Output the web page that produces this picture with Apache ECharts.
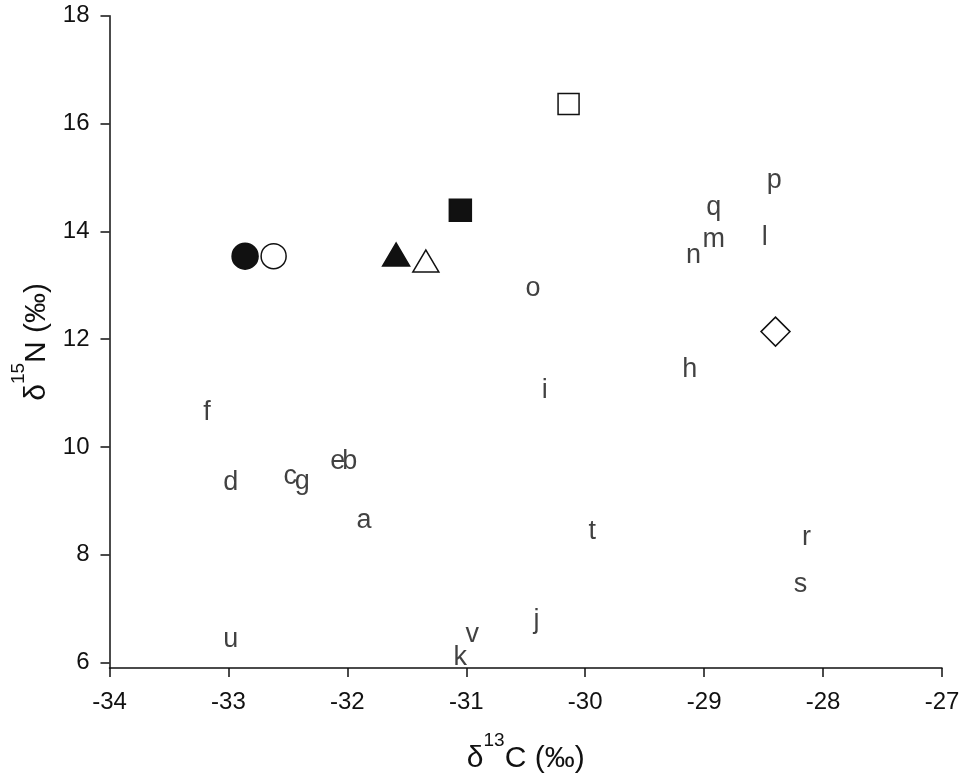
<!DOCTYPE html>
<html>
<head>
<meta charset="utf-8">
<script src="https://cdn.jsdelivr.net/npm/echarts@6/dist/echarts.min.js"></script>
<style>
html,body{margin:0;padding:0;background:#fff;}
#chart{width:979px;height:781px;}
</style>
</head>
<body>
<div id="chart"></div>
<script>
// ---- data ----
const letters = ['a','b','c','d','e','f','g','h','i','j','k','l','m','n','o','p','q','r','s','t','u','v'];
const letterX = [-31.86,-31.98,-32.48,-32.98,-32.08,-33.18,-32.38,-29.12,-30.34,-30.41,-31.05,-28.49,-28.92,-29.09,-30.44,-28.41,-28.92,-28.14,-28.19,-29.94,-32.98,-30.95];
const letterY = [8.68,9.76,9.48,9.37,9.76,10.67,9.39,11.47,11.08,6.81,6.13,13.93,13.88,13.59,12.97,14.97,14.47,8.35,7.49,8.46,6.46,6.56];

const markerNames = ['filledCircle','openCircle','filledTriangle','openTriangle','filledSquare','openSquare','openDiamond'];
const markerX = [-32.86,-32.62,-31.59,-31.34,-31.05,-30.14,-28.40];
const markerY = [13.54,13.54,13.57,13.45,14.39,16.36,12.14];

const xTicks = [-34,-33,-32,-31,-30,-29,-28,-27];
const yTicks = [6,8,10,12,14,16,18];

// ---- styles ----
const INK = '#111';
const markerStyle = {
  filledCircle:   {symbol:'circle',   size:26, fill:INK,    stroke:INK},
  openCircle:     {symbol:'circle',   size:25, fill:'#fff', stroke:INK},
  filledTriangle: {symbol:'triangle', size:[27,23], fill:INK, stroke:INK},
  openTriangle:   {symbol:'triangle', size:[26,22], fill:'#fff', stroke:INK},
  filledSquare:   {symbol:'rect',     size:22, fill:INK,    stroke:INK},
  openSquare:     {symbol:'rect',     size:21, fill:'#fff', stroke:INK},
  openDiamond:    {symbol:'diamond',  size:29, fill:'#fff', stroke:INK}
};

const FONT = '"Liberation Sans", Arial, Helvetica, sans-serif';

const series = [];
markerNames.forEach(function(name, i){
  const st = markerStyle[name];
  series.push({
    type:'scatter',
    name:name,
    symbol:st.symbol,
    symbolSize:st.size,
    data:[[markerX[i], markerY[i]]],
    itemStyle:{color:st.fill, borderColor:st.stroke, borderWidth:1.5, opacity:1},
    emphasis:{disabled:true},
    silent:true,
    z:3
  });
});
series.push({
  type:'scatter',
  name:'letters',
  symbolSize:1,
  itemStyle:{color:'rgba(0,0,0,0)'},
  data:letters.map(function(l,i){ return {name:l, value:[letterX[i], letterY[i]]}; }),
  label:{
    show:true, position:'inside', offset:[0,2], formatter:function(p){return p.name;},
    color:INK, fontFamily:FONT, fontSize:27, align:'center', verticalAlign:'middle',
    textBorderWidth:0
  },
  emphasis:{disabled:true},
  silent:true,
  z:4
});

const chart = echarts.init(document.getElementById('chart'), null, {renderer:'canvas'});
chart.setOption({
  animation:false,
  backgroundColor:'#fff',
  grid:{left:109.5, right:37, top:15.7, bottom:113, containLabel:false},
  xAxis:{
    type:'value', min:-34, max:-27, interval:1,
    splitLine:{show:false},
    axisLine:{show:true, onZero:false, lineStyle:{color:INK, width:1.5}},
    axisTick:{show:true, inside:false, length:9, lineStyle:{color:INK, width:1.5}},
    axisLabel:{show:true, margin:22, color:INK, fontFamily:FONT, fontSize:24, showMinLabel:true, showMaxLabel:true},
    name:'{d|δ}{s|13}{t|C (‰)}',
    nameLocation:'middle', nameGap:63,
    nameTextStyle:{
      color:INK, fontFamily:FONT,
      rich:{
        d:{fontSize:30, lineHeight:56, fontFamily:FONT, color:INK},
        s:{fontSize:19, lineHeight:19, verticalAlign:'top', fontFamily:FONT, color:INK},
        t:{fontSize:30, lineHeight:56, fontFamily:FONT, color:INK}
      }
    }
  },
  yAxis:{
    type:'value', min:5.9, max:18,
    splitLine:{show:false},
    axisLine:{show:true, onZero:false, lineStyle:{color:INK, width:1.5}},
    axisTick:{show:true, inside:false, length:9, customValues:yTicks, lineStyle:{color:INK, width:1.5}},
    axisLabel:{show:true, margin:20, customValues:yTicks, color:INK, fontFamily:FONT, fontSize:24},
    name:'{d|δ}{s|15}{t|N (‰)}',
    nameLocation:'middle', nameGap:40, nameRotate:90,
    nameTextStyle:{
      color:INK, fontFamily:FONT,
      rich:{
        d:{fontSize:30, lineHeight:56, fontFamily:FONT, color:INK},
        s:{fontSize:19, lineHeight:19, verticalAlign:'top', fontFamily:FONT, color:INK},
        t:{fontSize:30, lineHeight:56, fontFamily:FONT, color:INK}
      }
    }
  },
  series:series
});
</script>
</body>
</html>
